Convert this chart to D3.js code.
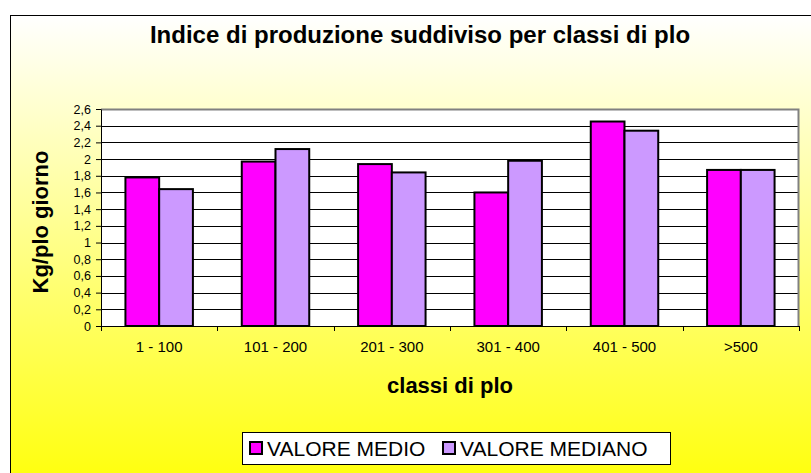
<!DOCTYPE html>
<html>
<head>
<meta charset="utf-8">
<script src="https://cdn.jsdelivr.net/npm/d3@7"></script>
<style>
  body { margin: 0; background: #fff; }
  svg { display: block; font-family: "Liberation Sans", Arial, sans-serif; }
</style>
</head>
<body>
<div id="chart"></div>
<script>
// data
var categories = ["1 - 100", "101 - 200", "201 - 300", "301 - 400", "401 - 500", ">500"];
var valoreMedio = [1.78, 1.97, 1.94, 1.60, 2.45, 1.87];
var valoreMediano = [1.64, 2.12, 1.84, 1.98, 2.34, 1.87];
var seriesNames = ["VALORE MEDIO", "VALORE MEDIANO"];
var seriesColors = ["#ff00ff", "#cc99ff"];
var yTicks = [0, 0.2, 0.4, 0.6, 0.8, 1, 1.2, 1.4, 1.6, 1.8, 2, 2.2, 2.4, 2.6];

var W = 811, H = 473;
var margin = { top: 109, right: 12, bottom: 147, left: 101 },
  width = W - margin.left - margin.right,
  height = H - margin.top - margin.bottom;

var svg = d3.select("#chart").append("svg")
  .attr("width", W)
  .attr("height", H);

// background gradient (white -> yellow)
var grad = svg.append("defs").append("linearGradient")
  .attr("id", "bg")
  .attr("gradientUnits", "userSpaceOnUse")
  .attr("x1", 0).attr("y1", 15).attr("x2", 0).attr("y2", 505);
grad.append("stop").attr("offset", "0%").attr("stop-color", "#ffffff");
grad.append("stop").attr("offset", "100%").attr("stop-color", "#ffff00");

svg.append("rect")
  .attr("x", 10.5).attr("y", 15.5)
  .attr("width", W).attr("height", H)
  .attr("fill", "url(#bg)")
  .attr("stroke", "#000")
  .attr("stroke-width", 1);

// title
svg.append("text")
  .attr("x", 420).attr("y", 43)
  .attr("text-anchor", "middle")
  .attr("font-weight", "bold")
  .attr("font-size", 24)
  .text("Indice di produzione suddiviso per classi di plo");

var g = svg.append("g")
  .attr("transform", "translate(" + margin.left + "," + margin.top + ")");

// scales
var x0 = d3.scaleBand().domain(categories).range([0, width]).paddingInner(0.42).paddingOuter(0.21);
var x1 = d3.scaleBand().domain(seriesNames).range([0, x0.bandwidth()]);
var y = d3.scaleLinear().domain([0, 2.6]).range([height, 0]);
var xb = d3.scaleBand().domain(categories).range([0, width]);

// plot area
g.append("rect")
  .attr("width", width).attr("height", height)
  .attr("fill", "#fff");

// gridlines
g.append("g")
  .selectAll("line")
  .data(yTicks.slice(1))
  .join("line")
  .attr("x1", 0).attr("x2", width)
  .attr("y1", function (d) { return Math.round(y(d)) + 0.5; })
  .attr("y2", function (d) { return Math.round(y(d)) + 0.5; })
  .attr("stroke", "#000");

// plot border top/right
g.append("path")
  .attr("d", "M0," + 0.5 + "H" + (width - 0.5) + "V" + height)
  .attr("fill", "none")
  .attr("stroke", "#808080")
  .attr("stroke-width", 2);

// bars
var rows = categories.map(function (c, i) {
  return { cat: c, vals: [valoreMedio[i], valoreMediano[i]] };
});
var groups = g.append("g").selectAll("g")
  .data(rows)
  .join("g")
  .attr("transform", function (d) { return "translate(" + x0(d.cat) + ",0)"; });
groups.selectAll("rect")
  .data(function (d) { return d.vals.map(function (v, j) { return { name: seriesNames[j], v: v, j: j }; }); })
  .join("rect")
  .attr("x", function (d) { return x1(d.name); })
  .attr("y", function (d) { return y(d.v); })
  .attr("width", x1.bandwidth())
  .attr("height", function (d) { return height - y(d.v); })
  .attr("fill", function (d) { return seriesColors[d.j]; })
  .attr("stroke", "#000")
  .attr("stroke-width", 2);

// y axis
var yAxis = g.append("g")
  .call(d3.axisLeft(y).tickValues(yTicks).tickSize(5).tickSizeOuter(0)
    .tickFormat(function (d) { return String(d).replace(".", ","); }));
yAxis.select(".domain").attr("stroke", "#000");
yAxis.selectAll("text").attr("font-size", 12.5).attr("font-family", "Liberation Sans, Arial").attr("fill", "#000").attr("x", -10);

// x axis
var xAxis = g.append("g")
  .attr("transform", "translate(0," + height + ")")
  .call(d3.axisBottom(xb).tickSize(0).tickSizeOuter(0));
xAxis.selectAll("text").attr("font-size", 15).attr("font-family", "Liberation Sans, Arial").attr("fill", "#000").attr("dy", "0").attr("y", 26);
xAxis.select(".domain").attr("stroke", "#000");
xAxis.append("g").selectAll("line")
  .data(categories.concat(["end"]))
  .join("line")
  .attr("x1", function (d, i) { return Math.round(i * xb.step()) + 0.5; })
  .attr("x2", function (d, i) { return Math.round(i * xb.step()) + 0.5; })
  .attr("y1", 0).attr("y2", 5)
  .attr("stroke", "#000");

// axis titles
svg.append("text")
  .attr("transform", "translate(48,222) rotate(-90)")
  .attr("text-anchor", "middle")
  .attr("font-weight", "bold")
  .attr("font-size", 22)
  .text("Kg/plo giorno");

svg.append("text")
  .attr("x", margin.left + width / 2).attr("y", 393)
  .attr("text-anchor", "middle")
  .attr("font-weight", "bold")
  .attr("font-size", 22)
  .text("classi di plo");

// legend
var legend = svg.append("g").attr("transform", "translate(242,432)");
legend.append("rect")
  .attr("x", 0.5).attr("y", 0.5)
  .attr("width", 428).attr("height", 32)
  .attr("fill", "#fff")
  .attr("stroke", "#000");
var legX = [8, 201];
var items = legend.selectAll("g.item")
  .data(seriesNames)
  .join("g")
  .attr("class", "item")
  .attr("transform", function (d, i) { return "translate(" + legX[i] + ",0)"; });
items.append("rect")
  .attr("x", 0).attr("y", 10)
  .attr("width", 12).attr("height", 12)
  .attr("fill", function (d, i) { return seriesColors[i]; })
  .attr("stroke", "#000")
  .attr("stroke-width", 2);
items.append("text")
  .attr("x", 17).attr("y", 24)
  .attr("font-size", 21)
  .text(function (d) { return d; });
</script>
</body>
</html>
